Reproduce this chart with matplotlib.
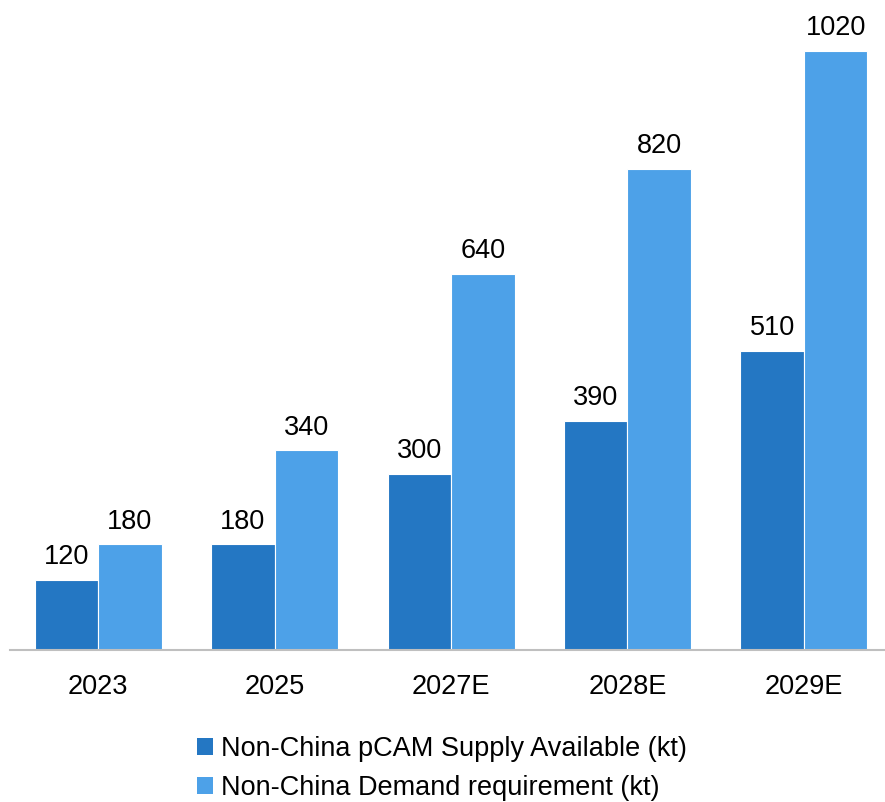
import matplotlib
matplotlib.use("Agg")
import matplotlib.pyplot as plt
import numpy as np
from matplotlib.patches import Patch

plt.rcParams['font.family'] = ['Liberation Sans', 'DejaVu Sans']

years = ["2023", "2025", "2027E", "2028E", "2029E"]
supply = [120, 180, 300, 390, 510]
demand = [180, 340, 640, 820, 1020]
supply_label = "Non-China pCAM Supply Available (kt)"
demand_label = "Non-China Demand requirement (kt)"

c_supply = "#2477C3"
c_demand = "#4DA1E8"

W, H = 885, 802
fig = plt.figure(figsize=(W / 100, H / 100), dpi=100)
ax = fig.add_axes([10 / W, (H - 650) / H, (885 - 10) / W, 640 / H])

x = np.arange(len(years))
bw = 0.36
b1 = ax.bar(x - bw / 2, supply, bw, color=c_supply, edgecolor="white", linewidth=0.8)
b2 = ax.bar(x + bw / 2, demand, bw, color=c_demand, edgecolor="white", linewidth=0.8)

for bars, vals in ((b1, supply), (b2, demand)):
    for r, v in zip(bars, vals):
        ax.annotate(f"{v}", (r.get_x() + r.get_width() / 2, v),
                    xytext=(0, 7), textcoords="offset points",
                    ha="center", va="bottom", fontsize=19.5, color="black")

ax.set_xlim(-0.5, 4.46)
ax.set_ylim(0, 1090)
ax.set_xticks(x)
ax.set_xticklabels(years, fontsize=19.5)
ax.tick_params(axis="x", length=0, pad=17)
ax.set_yticks([])
for s in ("top", "right", "left"):
    ax.spines[s].set_visible(False)
ax.spines["bottom"].set_color("#BFBFBF")
ax.spines["bottom"].set_linewidth(1.5)

handles = [Patch(facecolor=c_supply, label=supply_label),
           Patch(facecolor=c_demand, label=demand_label)]
fig.legend(handles=handles, loc="upper left", bbox_to_anchor=(186 / W, 1 - 725 / H),
           frameon=False, fontsize=19.5, handlelength=0.6, handleheight=0.6,
           handletextpad=0.3, labelspacing=0.5, borderaxespad=0)

fig.savefig("out.png", dpi=100)
